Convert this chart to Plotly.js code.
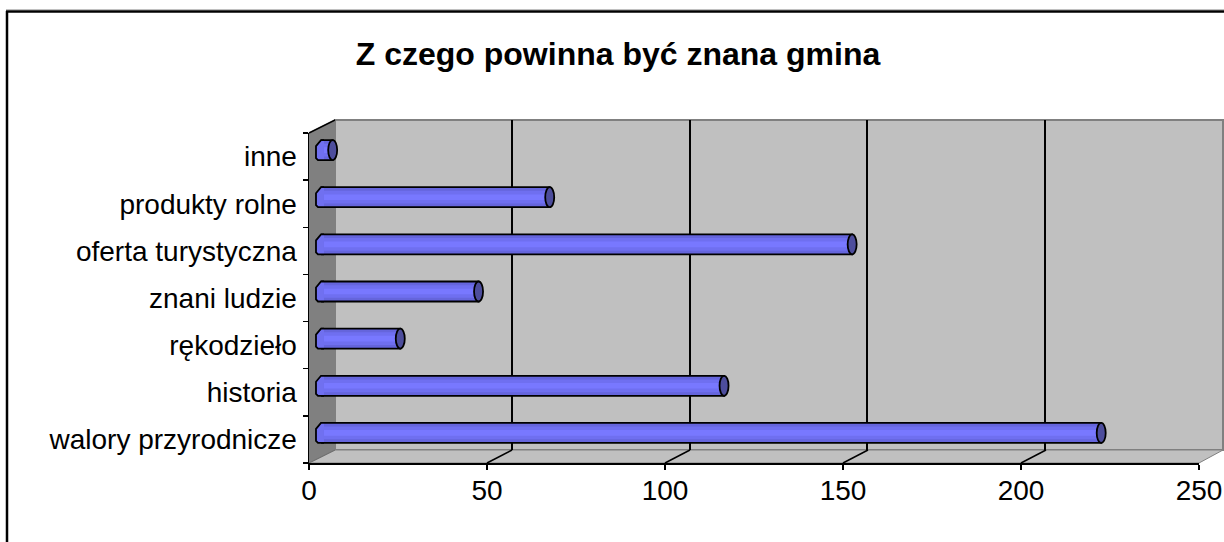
<!DOCTYPE html>
<html><head><meta charset="utf-8">
<script src="https://cdn.plot.ly/plotly-3.0.1.min.js"></script>
<style>html,body{margin:0;padding:0;background:#fff}</style></head>
<body><div id="chart" style="width:1224px;height:542px"></div>
<script>
var categories = ['walory przyrodnicze','historia','rękodzieło','znani ludzie','oferta turystyczna','produkty rolne','inne'];
var values = [219, 113, 22, 44, 149, 64, 3];
var xTicks = [0, 50, 100, 150, 200, 250];
var W = 1224, H = 542;
function px(a){return a/W;}
function py(a){return (H-a)/H;}
var axFont = {family:'"Liberation Sans", Arial, sans-serif', size:28, color:'#000'};
var shapes = [];
function poly(path,fill,line,lw){shapes.push({type:'path',xref:'paper',yref:'paper',path:path,fillcolor:fill,line:{color:line,width:lw},layer:'below'});}
function P(pts){return 'M'+pts.map(function(p){return px(p[0])+','+py(p[1]);}).join('L')+'Z';}
function L(x0,y0,x1,y1,c,w){shapes.push({type:'line',xref:'paper',yref:'paper',x0:px(x0),y0:py(y0),x1:px(x1),y1:py(y1),line:{color:c,width:w},layer:'below'});}
poly(P([[335,120],[1223,120],[1223,450],[335,450]]),'#c0c0c0','#808080',2);
poly(P([[309,133],[335,120],[335,450],[309,463]]),'#808080','#808080',1);
poly(P([[309,463],[335,450],[1223,450],[1199,463]]),'#c0c0c0','#808080',1);
L(309,463,335,450,'#6e6e6e',1);
L(309,133,335,120,'#000',1.5);
L(6,9.5,1224,9.5,'#c0c0c0',1);
L(6,11.5,1224,11.5,'#000',2.5);
L(7,11,7,542,'#000',2.5);
xTicks.slice(1,5).forEach(function(v){
  shapes.push({type:'line',xref:'x',yref:'paper',xsizemode:'pixel',xanchor:v,x0:0,x1:25,y0:py(463),y1:py(450),line:{color:'#000',width:1.5},layer:'above'});
});
values.forEach(function(v,i){
  var base = {xref:'x3',yref:'y3',xsizemode:'pixel',ysizemode:'pixel',xanchor:0,yanchor:categories[i],layer:'above'};
  shapes.push(Object.assign({type:'path',path:'M2,10L-1,10L-6,4L-6,-8L-4,-10L2,-10Z',fillcolor:'#7070f0',line:{width:0}},base));
  shapes.push(Object.assign({type:'path',path:'M2,10L-1,10L-6,4L-6,-8L-4,-10L2,-10',fillcolor:'rgba(0,0,0,0)',line:{color:'#000',width:1.8}},base));
  shapes.push({type:'circle',xref:'x3',yref:'y3',xsizemode:'pixel',ysizemode:'pixel',xanchor:v,yanchor:categories[i],
    x0:-4.5,x1:4.5,y0:-10,y1:10,fillcolor:'#4d4d9c',line:{color:'#000',width:1.8},layer:'above'});
});
function bar(w,c,lw){return {type:'bar',orientation:'h',x:values,y:categories,width:w,xaxis:'x3',yaxis:'y3',
  marker:{color:c,line:{color:'#000',width:lw}},hoverinfo:'skip',showlegend:false};}
var traces = [
  {type:'scatter',x:[0],y:[categories[0]],mode:'markers',marker:{opacity:0},xaxis:'x',yaxis:'y',showlegend:false,hoverinfo:'skip'},
  {type:'scatter',x:[0],y:[0],mode:'markers',marker:{opacity:0},xaxis:'x2',yaxis:'y2',showlegend:false,hoverinfo:'skip'},
  bar(0.424,'#6565dc',1.8), bar(0.27,'#6f6ff0',0), bar(0.12,'#7878ff',0)
];
var layout = {
  width:W,height:H,margin:{l:0,r:0,t:0,b:0},paper_bgcolor:'#fff',plot_bgcolor:'rgba(0,0,0,0)',
  barmode:'overlay',showlegend:false,shapes:shapes,
  title:{text:'<b>Z czego powinna być znana gmina</b>',font:{family:'"Liberation Sans", Arial, sans-serif',size:32,color:'#000'},x:618/W,xanchor:'center',y:py(54),yanchor:'middle'},
  xaxis:{domain:[px(309),px(1199)],range:[0,250],tickvals:xTicks,ticks:'outside',ticklen:5,tickwidth:1.5,tickcolor:'#000',showgrid:false,zeroline:false,showline:true,linecolor:'#000',linewidth:1.5,tickfont:axFont,ticklabelstandoff:-3,anchor:'y'},
  yaxis:{domain:[py(463),py(133)],type:'category',categoryorder:'array',categoryarray:categories,range:[-0.5,6.5],tickson:'boundaries',ticks:'outside',ticklen:5,tickwidth:1.5,tickcolor:'#000',showgrid:false,zeroline:false,showline:true,linecolor:'#000',linewidth:1.5,tickfont:axFont,ticklabelstandoff:5,anchor:'x'},
  xaxis2:{domain:[px(334.4),px(1222.4)],range:[0,250],dtick:50,showgrid:true,gridcolor:'#000',gridwidth:2,zeroline:false,showticklabels:false,ticks:'',anchor:'y2'},
  yaxis2:{domain:[py(450),py(120)],range:[0,1],showgrid:false,zeroline:false,showticklabels:false,ticks:'',anchor:'x2'},
  xaxis3:{domain:[px(309),px(1211.5)],range:[-13/3.56,250],showgrid:false,zeroline:false,showticklabels:false,ticks:'',anchor:'y3'},
  yaxis3:{domain:[py(456.5),py(126.5)],type:'category',categoryorder:'array',categoryarray:categories,range:[-0.5,6.5],showgrid:false,zeroline:false,showticklabels:false,ticks:'',anchor:'x3'}
};
Plotly.newPlot('chart',traces,layout,{displayModeBar:false,staticPlot:true});
</script></body></html>
